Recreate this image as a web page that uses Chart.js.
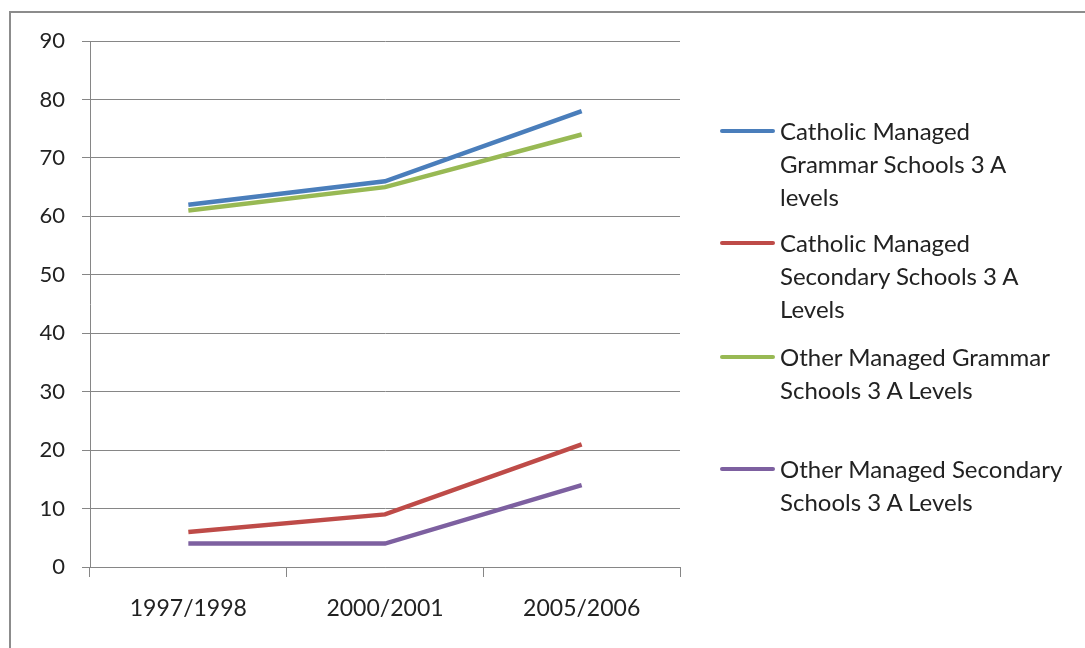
<!DOCTYPE html>
<html>
<head>
<meta charset="utf-8">
<script src="https://cdn.jsdelivr.net/npm/chart.js@4/dist/chart.umd.min.js"></script>
<style>
  html, body { margin: 0; padding: 0; background: #fff; overflow: hidden; }
  #wrap { position: relative; width: 1085px; height: 648px; }
  #frame { position: absolute; left: 9px; top: 11px; width: 1100px; height: 660px; border: 2px solid #8c8c8c; box-sizing: border-box; }
  #chart { position: absolute; left: 0; top: 0; }
  #legend { position: absolute; left: 720px; top: 0; font-family: Lato, "Open Sans", sans-serif; font-size: 24px; color: #222; }
  .item { position: absolute; left: 0; width: 360px; }
  .swatch { position: absolute; left: 0; width: 55px; height: 4px; border-radius: 2px; }
  .text { position: absolute; left: 60px; line-height: 33px; white-space: nowrap; }
</style>
</head>
<body>
<div id="wrap">
  <div id="frame"></div>
  <canvas id="chart" width="1085" height="648"></canvas>
  <div id="legend"></div>
</div>
<script>
const years = ["1997/1998", "2000/2001", "2005/2006"];

const catholicGrammar = [62, 66, 78];
const catholicSecondary = [6, 9, 21];
const otherGrammar = [61, 65, 74];
const otherSecondary = [4, 4, 14];

const seriesNames = [
  ["Catholic Managed", "Grammar Schools 3 A", "levels"],
  ["Catholic Managed", "Secondary Schools 3 A", "Levels"],
  ["Other Managed Grammar", "Schools 3 A Levels"],
  ["Other Managed Secondary", "Schools 3 A Levels"],
];
const seriesColors = ["#4a7ebb", "#be4b48", "#98b954", "#7d60a0"];
const legendY = [131, 243, 357, 469];

const values = [catholicGrammar, catholicSecondary, otherGrammar, otherSecondary];

const ctx = document.getElementById("chart").getContext("2d");
new Chart(ctx, {
  type: "line",
  data: {
    labels: years,
    datasets: values.map((v, i) => ({
      label: seriesNames[i].join(" "),
      data: v,
      borderColor: seriesColors[i],
      backgroundColor: seriesColors[i],
      borderWidth: 4.5,
      pointRadius: 0,
      tension: 0,
      fill: false,
    })),
  },
  options: {
    responsive: false,
    animation: false,
    layout: { padding: { left: 0, right: 405, top: 41, bottom: 0 } },
    plugins: { legend: { display: false }, tooltip: { enabled: false } },
    scales: {
      x: {
        offset: true,
        grid: { offset: true, drawOnChartArea: false, drawTicks: true, tickLength: 10, color: "#868686" },
        border: { color: "#868686" },
        ticks: { color: "#222", padding: 18, font: { family: "Lato", size: 23 } },
        afterFit: (s) => { s.height = 81; },
      },
      y: {
        min: 0,
        max: 90,
        grid: { color: "#868686", tickLength: 8 },
        border: { color: "#868686" },
        ticks: { stepSize: 10, color: "#222", padding: 17, font: { family: "Lato", size: 22 } },
        afterFit: (s) => { s.width = 90; },
      },
    },
  },
});

// legend with wrapped labels, like the original
const legend = document.getElementById("legend");
seriesNames.forEach((lines, i) => {
  const item = document.createElement("div");
  item.className = "item";
  item.style.top = legendY[i] + "px";
  const sw = document.createElement("div");
  sw.className = "swatch";
  sw.style.background = seriesColors[i];
  sw.style.top = "-2px";
  const tx = document.createElement("div");
  tx.className = "text";
  tx.style.top = "-17px";
  tx.innerHTML = lines.join("<br>");
  item.appendChild(sw);
  item.appendChild(tx);
  legend.appendChild(item);
});
</script>
</body>
</html>
